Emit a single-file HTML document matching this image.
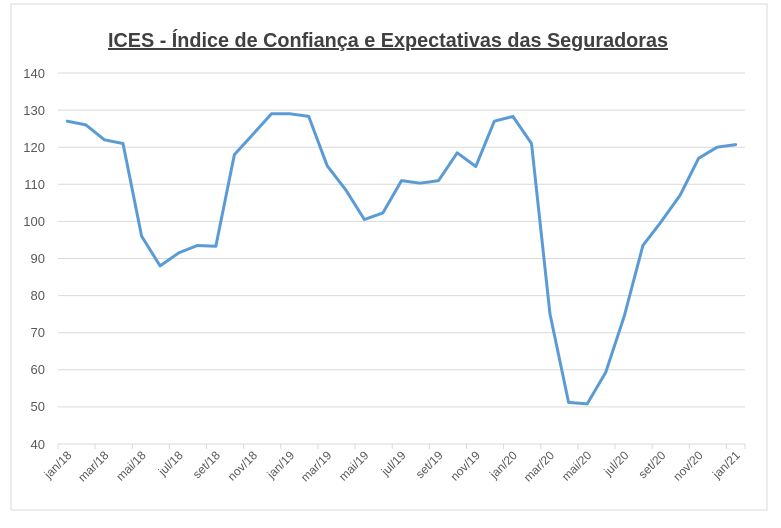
<!DOCTYPE html>
<html><head><meta charset="utf-8"><style>
body{margin:0;background:#fff;}
svg text{font-family:"Liberation Sans",sans-serif;}
</style></head><body>
<svg width="781" height="523" xmlns="http://www.w3.org/2000/svg">
<rect x="0" y="0" width="781" height="523" fill="#fff"/>
<rect x="11" y="4" width="756" height="506" fill="none" stroke="#d9d9d9" stroke-width="1"/>
<text x="388" y="47" text-anchor="middle" font-size="20" font-weight="bold" fill="#404040" text-decoration="underline" textLength="560" lengthAdjust="spacingAndGlyphs">ICES - Índice de Confiança e Expectativas das Seguradoras</text>
<g stroke="#d9d9d9" stroke-width="1">
<line x1="58" x2="745" y1="73" y2="73"/>
<line x1="58" x2="745" y1="110.1" y2="110.1"/>
<line x1="58" x2="745" y1="147.2" y2="147.2"/>
<line x1="58" x2="745" y1="184.3" y2="184.3"/>
<line x1="58" x2="745" y1="221.4" y2="221.4"/>
<line x1="58" x2="745" y1="258.5" y2="258.5"/>
<line x1="58" x2="745" y1="295.6" y2="295.6"/>
<line x1="58" x2="745" y1="332.7" y2="332.7"/>
<line x1="58" x2="745" y1="369.8" y2="369.8"/>
<line x1="58" x2="745" y1="406.9" y2="406.9"/>
<line x1="58" x2="745" y1="444" y2="444"/>
<line x1="58" x2="58" y1="444" y2="449"/><line x1="95.1" x2="95.1" y1="444" y2="449"/>
<line x1="132.3" x2="132.3" y1="444" y2="449"/><line x1="169.4" x2="169.4" y1="444" y2="449"/>
<line x1="206.5" x2="206.5" y1="444" y2="449"/><line x1="243.7" x2="243.7" y1="444" y2="449"/>
<line x1="280.8" x2="280.8" y1="444" y2="449"/><line x1="317.9" x2="317.9" y1="444" y2="449"/>
<line x1="355.1" x2="355.1" y1="444" y2="449"/><line x1="392.2" x2="392.2" y1="444" y2="449"/>
<line x1="429.4" x2="429.4" y1="444" y2="449"/><line x1="466.5" x2="466.5" y1="444" y2="449"/>
<line x1="503.6" x2="503.6" y1="444" y2="449"/><line x1="540.8" x2="540.8" y1="444" y2="449"/>
<line x1="577.9" x2="577.9" y1="444" y2="449"/><line x1="615" x2="615" y1="444" y2="449"/>
<line x1="652.2" x2="652.2" y1="444" y2="449"/><line x1="689.3" x2="689.3" y1="444" y2="449"/>
<line x1="726.4" x2="726.4" y1="444" y2="449"/><line x1="745" x2="745" y1="444" y2="449"/>
</g>
<g font-size="13" fill="#595959" text-anchor="end">
<text x="45" y="78">140</text><text x="45" y="115">130</text><text x="45" y="152">120</text>
<text x="45" y="189">110</text><text x="45" y="226">100</text><text x="45" y="263">90</text>
<text x="45" y="300">80</text><text x="45" y="337">70</text><text x="45" y="374">60</text>
<text x="45" y="411">50</text><text x="45" y="449">40</text>
</g>
<g font-size="12" fill="#595959" text-anchor="end">
<text transform="translate(72.3,456) rotate(-45)">jan/18</text>
<text transform="translate(109.4,456) rotate(-45)">mar/18</text>
<text transform="translate(146.6,456) rotate(-45)">mai/18</text>
<text transform="translate(183.7,456) rotate(-45)">jul/18</text>
<text transform="translate(220.8,456) rotate(-45)">set/18</text>
<text transform="translate(258,456) rotate(-45)">nov/18</text>
<text transform="translate(295.1,456) rotate(-45)">jan/19</text>
<text transform="translate(332.2,456) rotate(-45)">mar/19</text>
<text transform="translate(369.4,456) rotate(-45)">mai/19</text>
<text transform="translate(406.5,456) rotate(-45)">jul/19</text>
<text transform="translate(443.6,456) rotate(-45)">set/19</text>
<text transform="translate(480.8,456) rotate(-45)">nov/19</text>
<text transform="translate(517.9,456) rotate(-45)">jan/20</text>
<text transform="translate(555,456) rotate(-45)">mar/20</text>
<text transform="translate(592.2,456) rotate(-45)">mai/20</text>
<text transform="translate(629.3,456) rotate(-45)">jul/20</text>
<text transform="translate(666.4,456) rotate(-45)">set/20</text>
<text transform="translate(703.6,456) rotate(-45)">nov/20</text>
<text transform="translate(740.7,456) rotate(-45)">jan/21</text>
</g>
<polyline id="ln" fill="none" stroke="#5b9bd5" stroke-width="3" stroke-linejoin="round" stroke-linecap="round"/>
<script>
var d=[127,126,122,121,96,88,91.5,93.5,93.3,118,123.5,129,129,128.3,115,108.5,100.5,102.3,111,110.3,111,118.5,114.8,127,128.3,121,75,51.2,50.8,59.3,74.5,93.5,100,107,117,120,120.7];
var w=687/37,p=[];
d.forEach(function(v,i){p.push((58+w*(i+0.5)).toFixed(1)+","+(444-(v-40)*3.71).toFixed(1));});
document.getElementById('ln').setAttribute('points',p.join(' '));
</script>
</svg>
</body></html>
